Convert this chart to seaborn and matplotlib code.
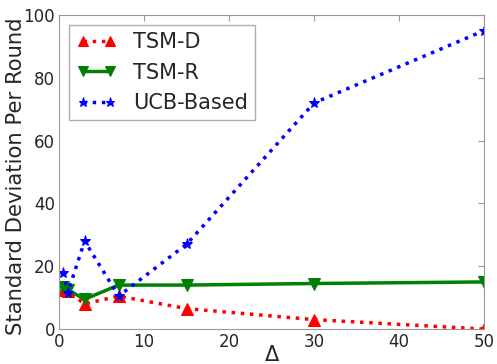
import matplotlib
matplotlib.use("Agg")
import matplotlib.pyplot as plt
import seaborn as sns
import pandas as pd

# Delta values and per-method standard deviation per round
delta = [0.5, 1, 3, 7, 15, 30, 50]
tsm_d = [12.5, 12, 8, 10.5, 6.5, 3, 0]
tsm_r = [13.5, 12.5, 9.5, 14, 14, 14.5, 15]
ucb = [18, 11.5, 28, 10.5, 27, 72, 95]

sns.set_style("white")
plt.rcParams['font.family'] = ['DejaVu Sans']

df = pd.DataFrame({"delta": delta, "TSM-D": tsm_d, "TSM-R": tsm_r, "UCB-Based": ucb})

fig, ax = plt.subplots(figsize=(4.97, 3.64), dpi=100)

sns.lineplot(data=df, x="delta", y="TSM-D", ax=ax, color="red", linestyle=":",
             linewidth=2.5, marker="^", markersize=8, markeredgecolor="red", label="TSM-D")
sns.lineplot(data=df, x="delta", y="TSM-R", ax=ax, color="green", linestyle="-",
             linewidth=2.5, marker="v", markersize=8, markeredgecolor="green", label="TSM-R")
sns.lineplot(data=df, x="delta", y="UCB-Based", ax=ax, color="blue", linestyle=":",
             linewidth=2.5, marker="*", markersize=8, markeredgecolor="blue", label="UCB-Based")

ax.set_xlim(0, 50)
ax.set_ylim(0, 100)
ax.set_xticks([0, 10, 20, 30, 40, 50])
ax.set_yticks([0, 20, 40, 60, 80, 100])
ax.tick_params(direction="in", top=True, right=True, labelsize=12, length=4,
               pad=3, color="#999999")
for s in ax.spines.values():
    s.set_color("#999999")
ax.set_xlabel(r"$\Delta$", fontsize=15)
ax.xaxis.set_label_coords(0.5, -0.05)
ax.set_ylabel("Standard Deviation Per Round", fontsize=15.2)
ax.yaxis.set_label_coords(-0.078, 0.486)

leg = ax.legend(loc="upper left", fontsize=15, frameon=True, fancybox=False,
                numpoints=2, handlelength=1.9, borderpad=0.35, markerscale=0.85,
                borderaxespad=0, bbox_to_anchor=(0.0235, 0.968))
leg.get_frame().set_edgecolor("#999999")

fig.subplots_adjust(left=0.119, right=0.974, top=0.959, bottom=0.096)
fig.savefig("out.png", dpi=100)
